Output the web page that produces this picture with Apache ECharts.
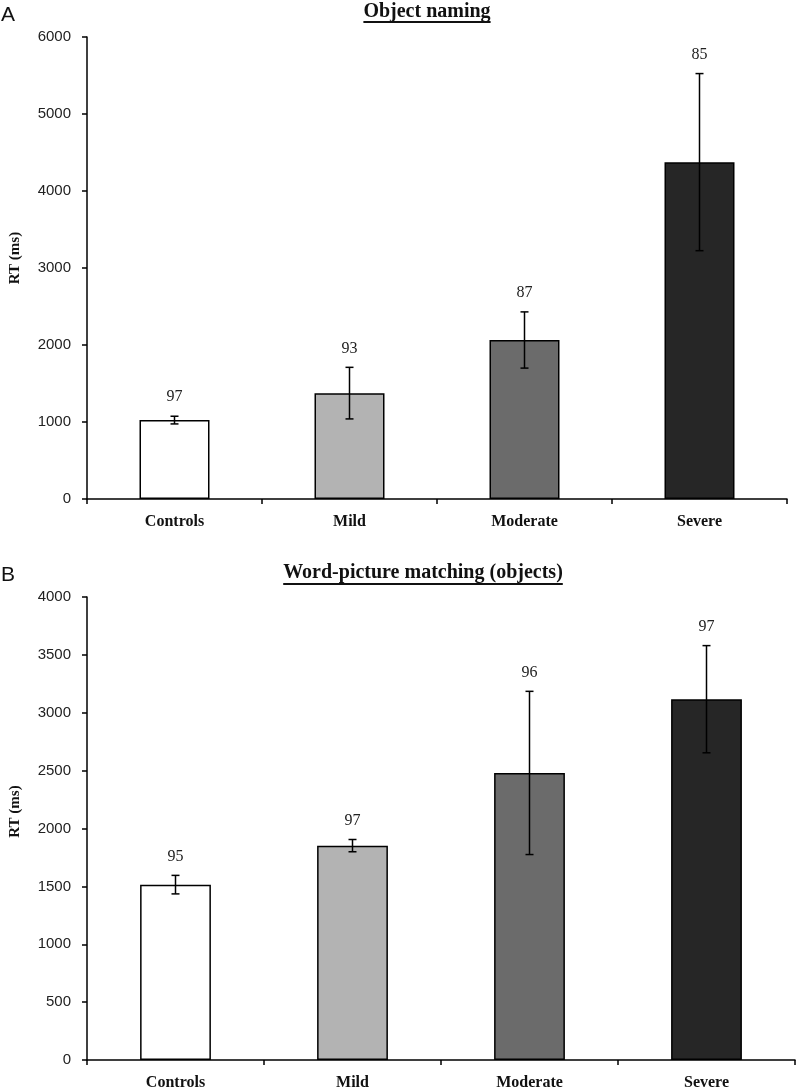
<!DOCTYPE html>
<html>
<head>
<meta charset="utf-8">
<script src="https://cdn.jsdelivr.net/npm/echarts@6/dist/echarts.min.js"></script>
<style>
html,body{margin:0;padding:0;background:#fff;}
#chart{width:800px;height:1091px;}
</style>
</head>
<body>
<div id="chart"></div>
<script>
// ---- data ----
const categories = ['Controls', 'Mild', 'Moderate', 'Severe'];
const namingRT = [1025, 1375, 2065, 4375];
const namingErr = [50, 335, 365, 1150];
const namingAcc = [97, 93, 87, 85];
const matchingRT = [1515, 1852, 2480, 3117];
const matchingErr = [80, 53, 705, 463];
const matchingAcc = [95, 97, 96, 97];
const titleA = 'Object naming';
const titleB = 'Word-picture matching (objects)';
const yName = 'RT (ms)';
const namingAxis = { min: 0, max: 6000, interval: 1000 };
const matchingAxis = { min: 0, max: 4000, interval: 500 };
const barColors = ['#ffffff', '#b3b3b3', '#6b6b6b', '#262626'];

// ---- helpers ----
const serif = '"Liberation Serif", "Times New Roman", serif';
const sans = '"Liberation Sans", Arial, sans-serif';
const measure = (txt, font) => {
  const c = document.createElement('canvas').getContext('2d');
  c.font = font;
  return c.measureText(txt).width;
};

function barData(vals) {
  return vals.map((v, i) => ({ value: v, itemStyle: { color: barColors[i] } }));
}
function errData(vals, errs, acc) {
  return vals.map((v, i) => [i, v, errs[i], acc[i]]);
}
function errRender(params, api) {
  const i = api.value(0), m = api.value(1), e = api.value(2), acc = api.value(3);
  const top = api.coord([i, m + e]);
  const bot = api.coord([i, m - e]);
  const cap = 4;
  const st = { stroke: '#000', lineWidth: 1.5 };
  return {
    type: 'group',
    children: [
      { type: 'line', shape: { x1: top[0], y1: top[1], x2: bot[0], y2: bot[1] }, style: st },
      { type: 'line', shape: { x1: top[0] - cap, y1: top[1], x2: top[0] + cap, y2: top[1] }, style: st },
      { type: 'line', shape: { x1: bot[0] - cap, y1: bot[1], x2: bot[0] + cap, y2: bot[1] }, style: st },
      { type: 'text', x: top[0], y: top[1] - 19,
        style: { text: String(acc), font: '16px ' + serif, fill: '#222', align: 'center', verticalAlign: 'middle' } }
    ]
  };
}
function xAxisCfg(gi) {
  return {
    type: 'category', gridIndex: gi, data: categories,
    axisLine: { lineStyle: { color: '#000', width: 1.5 } },
    axisTick: { show: true, length: 5, lineStyle: { color: '#000', width: 1.5 } },
    axisLabel: { margin: 15, color: '#111', fontFamily: serif, fontWeight: 'bold', fontSize: 16 }
  };
}
function yAxisCfg(gi, ax, pad) {
  return {
    type: 'value', gridIndex: gi, min: ax.min, max: ax.max, interval: ax.interval,
    name: yName, nameLocation: 'middle', nameGap: 64,
    nameTextStyle: { fontFamily: serif, fontWeight: 'bold', fontSize: 15, color: '#111', padding: [0, 0, 0, pad] },
    splitLine: { show: false },
    axisLine: { show: true, lineStyle: { color: '#000', width: 1.5 } },
    axisTick: { show: true, length: 5, lineStyle: { color: '#000', width: 1.5 } },
    axisLabel: { margin: 16, color: '#222', fontFamily: sans, fontSize: 15, formatter: v => String(v) }
  };
}
function titleGraphic(txt, cx, cy, uy) {
  const font = 'bold 20px ' + serif;
  const w = measure(txt, font);
  return [
    { type: 'text', x: cx, y: cy, style: { text: txt, font: font, fill: '#111', align: 'center', verticalAlign: 'middle' } },
    { type: 'line', shape: { x1: cx - w / 2, y1: uy, x2: cx + w / 2, y2: uy }, style: { stroke: '#111', lineWidth: 2 } }
  ];
}

const chart = echarts.init(document.getElementById('chart'), null, { renderer: 'canvas' });
chart.setOption({
  backgroundColor: '#fff',
  animation: false,
  grid: [
    { left: 84, right: 13, top: 37, bottom: 592 },
    { left: 83, right: 5, top: 597, bottom: 30 }
  ],
  xAxis: [xAxisCfg(0), xAxisCfg(1)],
  yAxis: [yAxisCfg(0, namingAxis, 20), yAxisCfg(1, matchingAxis, 34)],
  graphic: [
    { type: 'text', x: 1, y: 15, style: { text: 'A', font: '21px ' + sans, fill: '#111', verticalAlign: 'middle' } },
    { type: 'text', x: 1, y: 575, style: { text: 'B', font: '21px ' + sans, fill: '#111', verticalAlign: 'middle' } }
  ].concat(titleGraphic(titleA, 427, 12, 22), titleGraphic(titleB, 423, 573, 584)),
  series: [
    { type: 'bar', xAxisIndex: 0, yAxisIndex: 0, barWidth: '40%', data: barData(namingRT),
      itemStyle: { borderColor: '#000', borderWidth: 1.5 } },
    { type: 'custom', xAxisIndex: 0, yAxisIndex: 0, renderItem: errRender, data: errData(namingRT, namingErr, namingAcc), z: 5 },
    { type: 'bar', xAxisIndex: 1, yAxisIndex: 1, barWidth: '40%', data: barData(matchingRT),
      itemStyle: { borderColor: '#000', borderWidth: 1.5 } },
    { type: 'custom', xAxisIndex: 1, yAxisIndex: 1, renderItem: errRender, data: errData(matchingRT, matchingErr, matchingAcc), z: 5 }
  ]
});
</script>
</body>
</html>
